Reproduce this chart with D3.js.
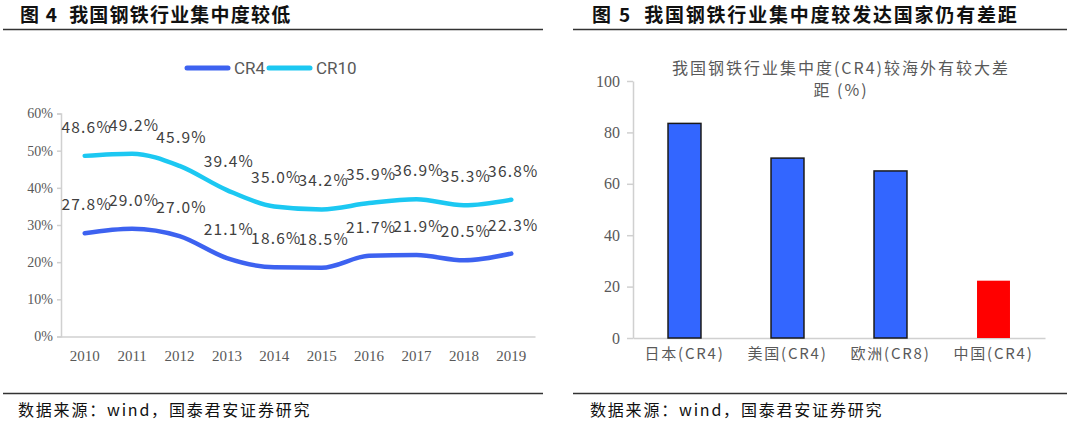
<!DOCTYPE html>
<html>
<head>
<meta charset="utf-8">
<script src="https://d3js.org/d3.v7.min.js"></script>
<style>
body {
	margin: 0;
	background: #fff;
}
svg text {
	font-family: "Noto Sans CJK SC", sans-serif;
}
.serif {
	font-family: "Liberation Serif", "Times New Roman", serif !important;
}
</style>
</head>
<body>

<svg id="chart" width="1080" height="426"></svg>

<script>

// fig 4 data
var years = ["2010", "2011", "2012", "2013", "2014", "2015", "2016", "2017", "2018", "2019"]
var cr4  = [27.8, 29.0, 27.0, 21.1, 18.6, 18.5, 21.7, 21.9, 20.5, 22.3]
var cr10 = [48.6, 49.2, 45.9, 39.4, 35.0, 34.2, 35.9, 36.9, 35.3, 36.8]
var pctTicks = [0, 10, 20, 30, 40, 50, 60]

// fig 5 data
var regions = ["日本(CR4)", "美国(CR4)", "欧洲(CR8)", "中国(CR4)"]
var regionValues = [83.5, 70, 65, 22.3]
var barTicks = [0, 20, 40, 60, 80, 100]

var svg = d3.select("#chart")
var grey = "#595959"

// titles, rules, sources
function frame(x0, x1, title, tx, ls) {
	svg.append("text")
		.attr("x", tx).attr("y", 22)
		.attr("font-size", 19).attr("font-weight", "bold")
		.attr("letter-spacing", ls)
		.attr("fill", "#111")
		.text(title)
	svg.append("line")
		.attr("x1", x0).attr("x2", x1).attr("y1", 29.5).attr("y2", 29.5)
		.attr("stroke", "#333").attr("stroke-width", 1.5)
	svg.append("line")
		.attr("x1", x0).attr("x2", x1).attr("y1", 393.5).attr("y2", 393.5)
		.attr("stroke", "#333").attr("stroke-width", 1.5)
	svg.append("text")
		.attr("x", tx - 2).attr("y", 416)
		.attr("font-size", 16)
		.attr("letter-spacing", 1.8)
		.attr("fill", "#111")
		.text("数据来源：wind，国泰君安证券研究")
}
frame(3, 543, "图\u00a04\u00a0\u00a0我国钢铁行业集中度较低", 20, 1.2)
frame(573, 1067, "图\u00a05\u00a0\u00a0我国钢铁行业集中度较发达国家仍有差距", 592, 1.8)

// ---- fig 4: line chart
var x = d3.scaleBand().domain(years).range([61, 535])
var y = d3.scaleLinear().domain([0, 60]).range([336.5, 113.5])

var yAxis = svg.append("g")
	.attr("transform", "translate(61,0)")
	.call(d3.axisLeft(y).tickValues(pctTicks).tickSize(4).tickFormat(d => d + "%"))
yAxis.select(".domain").attr("stroke", "#d0d0d0").attr("stroke-width", 1.5)
yAxis.selectAll(".tick line").attr("stroke", "#d0d0d0").attr("stroke-width", 1.5)
yAxis.selectAll("text").attr("class", "serif").attr("font-size", 14).attr("fill", grey).attr("x", -8)

var xAxis = svg.append("g")
	.attr("transform", "translate(0,336.5)")
	.call(d3.axisBottom(x).tickSize(0).tickSizeOuter(0))
xAxis.select(".domain").attr("stroke", "#d0d0d0").attr("stroke-width", 1.5)
xAxis.selectAll("text").attr("class", "serif").attr("font-size", 15).attr("fill", grey).attr("dy", "1.45em")

var series = [
	{ name: "CR4", values: cr4, color: "#3D62F0" },
	{ name: "CR10", values: cr10, color: "#1CC8F2" }
]

var line = d3.line()
	.x((d, i) => x(years[i]) + x.bandwidth() / 2)
	.y(d => y(d))
	.curve(d3.curveMonotoneX)

series.forEach(s => {
	svg.append("path")
		.attr("d", line(s.values))
		.attr("fill", "none")
		.attr("stroke", s.color)
		.attr("stroke-width", 4.5)
		.attr("stroke-linecap", "round")
		.attr("stroke-linejoin", "round")

	svg.append("g").selectAll("text")
		.data(s.values)
		.join("text")
		.attr("x", (d, i) => x(years[i]) + x.bandwidth() / 2 + 2)
		.attr("y", d => y(d) - 23)
		.attr("text-anchor", "middle")
		.attr("font-size", 15.5)
		.attr("letter-spacing", 1.2)
		.attr("fill", "#404040")
		.text(d => d.toFixed(1) + "%")
})

// legend
var legend = svg.append("g").selectAll("g")
	.data(series)
	.join("g")
	.attr("transform", (d, i) => `translate(${[187, 269][i]},68)`)
legend.append("line")
	.attr("x1", 0).attr("x2", 41)
	.attr("stroke", d => d.color)
	.attr("stroke-width", 5)
	.attr("stroke-linecap", "round")
legend.append("text")
	.attr("x", 47).attr("dy", "0.36em")
	.attr("font-size", 17)
	.attr("fill", grey)
	.style("font-family", "Roboto, sans-serif")
	.text(d => d.name)

// ---- fig 5: bar chart
var bx = d3.scaleBand().domain(regions).range([633, 1045]).paddingInner(0.68).paddingOuter(0.34)
var by = d3.scaleLinear().domain([0, 100]).range([338, 81])

var byAxis = svg.append("g")
	.attr("transform", "translate(633,0)")
	.call(d3.axisLeft(by).tickValues(barTicks).tickSize(6).tickSizeOuter(0))
byAxis.select(".domain").attr("stroke", "#d0d0d0").attr("stroke-width", 1.5)
byAxis.selectAll(".tick line").attr("stroke", "#d0d0d0").attr("stroke-width", 1.5)
byAxis.selectAll("text").attr("class", "serif").attr("font-size", 16).attr("fill", grey).attr("x", -13)

var bxAxis = svg.append("g")
	.attr("transform", "translate(0,338)")
	.call(d3.axisBottom(bx).tickSize(0).tickSizeOuter(0))
bxAxis.select(".domain").attr("stroke", "#d0d0d0").attr("stroke-width", 1.5)
bxAxis.selectAll("text").attr("font-size", 15).attr("letter-spacing", 1.8).attr("fill", grey).attr("dy", "1.2em")

svg.append("g").selectAll("rect")
	.data(regionValues)
	.join("rect")
	.attr("x", (d, i) => bx(regions[i]))
	.attr("y", d => by(d))
	.attr("width", bx.bandwidth())
	.attr("height", d => by(0) - by(d))
	.attr("fill", (d, i) => regions[i] == "中国(CR4)" ? "#FF0000" : "#3366FF")
	.attr("stroke", (d, i) => regions[i] == "中国(CR4)" ? "none" : "#1a1a1a")
	.attr("stroke-width", 1.5)

var bt = svg.append("text")
	.attr("x", 841).attr("y", 74)
	.attr("text-anchor", "middle")
	.attr("font-size", 16)
	.attr("letter-spacing", 2)
	.attr("fill", grey)
bt.append("tspan").attr("x", 841).text("我国钢铁行业集中度(CR4)较海外有较大差")
bt.append("tspan").attr("x", 841).attr("dy", 22).text("距 (%)")

</script>
</body>
</html>
